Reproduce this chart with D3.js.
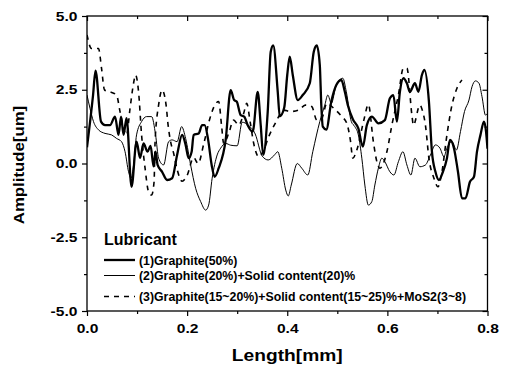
<!DOCTYPE html>
<html>
<head>
<meta charset="utf-8">
<script src="https://cdn.jsdelivr.net/npm/d3@7"></script>
<style>
  body { margin: 0; background: #fff; }
  svg { display: block; }
  text { font-family: "Liberation Sans", Arial, sans-serif; font-weight: bold; fill: #000; }
</style>
</head>
<body>
<div id="chart"></div>
<script>
// values (Length in mm, Amplitude in um)
var graphiteX = [0.000, 0.012, 0.017, 0.028, 0.036, 0.046, 0.056, 0.063, 0.068, 0.073, 0.079, 0.089, 0.099, 0.106, 0.113, 0.121, 0.127, 0.133, 0.137, 0.141, 0.150, 0.160, 0.170, 0.180, 0.190, 0.197, 0.203, 0.209, 0.213, 0.223, 0.230, 0.235, 0.242, 0.249, 0.255, 0.263, 0.277, 0.287, 0.294, 0.299, 0.307, 0.314, 0.321, 0.331, 0.341, 0.347, 0.352, 0.361, 0.367, 0.372, 0.381, 0.385, 0.394, 0.400, 0.405, 0.411, 0.421, 0.431, 0.445, 0.453, 0.459, 0.465, 0.468, 0.471, 0.478, 0.488, 0.498, 0.508, 0.515, 0.521, 0.531, 0.542, 0.551, 0.559, 0.569, 0.582, 0.595, 0.605, 0.612, 0.619, 0.625, 0.632, 0.639, 0.645, 0.655, 0.662, 0.669, 0.674, 0.683, 0.689, 0.696, 0.703, 0.711, 0.719, 0.725, 0.733, 0.741, 0.749, 0.756, 0.765, 0.773, 0.779, 0.786, 0.793, 0.797, 0.800];
var graphiteY = [0.55, 2.30, 3.15, 1.42, 1.30, 1.30, 1.59, 0.97, 1.59, 0.97, 1.54, -0.79, 0.74, 0.19, 0.68, 0.40, 0.60, -0.10, 0.40, -0.05, -0.28, -0.56, -0.50, 0.29, 0.97, 0.63, 0.18, 0.40, 0.97, 1.02, 1.30, 1.30, 0.80, -0.05, -0.45, -0.16, 0.80, 2.49, 2.15, 2.10, 1.64, 1.59, 1.30, 1.08, 2.43, 1.30, 0.29, 1.76, 3.79, 4.00, 2.43, 1.60, 1.90, 3.00, 3.62, 3.00, 2.15, 2.32, 2.72, 3.79, 4.00, 3.34, 1.98, 1.25, 1.15, 2.10, 2.66, 2.83, 2.43, 1.98, 1.50, 1.19, 0.57, 1.30, 1.59, 1.36, 1.47, 2.21, 2.32, 1.42, 2.43, 2.89, 2.72, 2.43, 2.72, 2.43, 3.00, 3.17, 2.10, 0.40, -0.28, -0.56, -0.28, 0.18, 0.80, 0.52, -0.28, -1.18, -1.18, -0.62, -0.45, 0.40, 0.97, 1.42, 1.10, 0.50];

var solidX = [0.000, 0.006, 0.013, 0.023, 0.036, 0.049, 0.059, 0.069, 0.076, 0.083, 0.088, 0.093, 0.099, 0.109, 0.119, 0.129, 0.137, 0.143, 0.153, 0.163, 0.170, 0.180, 0.189, 0.197, 0.207, 0.217, 0.227, 0.237, 0.243, 0.250, 0.260, 0.267, 0.277, 0.287, 0.300, 0.310, 0.322, 0.336, 0.350, 0.362, 0.375, 0.381, 0.389, 0.397, 0.402, 0.408, 0.420, 0.429, 0.441, 0.451, 0.465, 0.475, 0.481, 0.488, 0.498, 0.511, 0.518, 0.528, 0.535, 0.542, 0.549, 0.555, 0.562, 0.569, 0.575, 0.582, 0.589, 0.595, 0.605, 0.613, 0.622, 0.631, 0.639, 0.647, 0.655, 0.665, 0.676, 0.686, 0.696, 0.705, 0.713, 0.719, 0.729, 0.738, 0.746, 0.754, 0.763, 0.769, 0.776, 0.783, 0.789, 0.796, 0.800];
var solidY = [2.32, 1.87, 1.42, 1.14, 1.02, 0.97, 0.85, 0.74, 0.40, -0.28, -0.50, -0.05, 0.97, 1.42, 1.59, 1.59, 0.97, 0.18, -0.05, 0.74, 0.80, 0.74, 1.25, 0.85, -0.05, -0.84, -1.29, -1.58, -1.41, -0.50, 0.29, 0.52, 0.68, 0.62, 0.60, 1.40, 1.30, 1.00, 0.25, 0.12, 0.30, 0.40, -0.16, -0.90, -1.10, -0.73, 0.00, -0.16, -0.39, 0.40, 1.42, 1.98, 2.32, 2.04, 2.66, 2.89, 2.43, 1.42, 1.25, 0.97, 0.18, -0.73, -1.41, -1.29, -0.73, -0.16, 0.18, 0.06, -0.28, -0.39, 0.06, 0.40, -0.05, -0.39, 0.18, -0.11, -0.05, 0.29, 0.63, 0.52, 0.23, 0.52, 0.74, 0.46, 1.08, 1.76, 2.15, 2.60, 2.80, 2.72, 2.27, 1.64, 1.70];

var mos2X = [0.000, 0.009, 0.023, 0.029, 0.035, 0.046, 0.059, 0.066, 0.075, 0.079, 0.086, 0.093, 0.097, 0.103, 0.109, 0.116, 0.123, 0.129, 0.134, 0.136, 0.143, 0.150, 0.158, 0.162, 0.167, 0.173, 0.180, 0.190, 0.200, 0.213, 0.222, 0.233, 0.245, 0.256, 0.263, 0.269, 0.273, 0.283, 0.293, 0.303, 0.313, 0.319, 0.326, 0.333, 0.343, 0.353, 0.363, 0.376, 0.393, 0.406, 0.423, 0.436, 0.449, 0.459, 0.469, 0.479, 0.493, 0.509, 0.519, 0.526, 0.531, 0.539, 0.553, 0.562, 0.572, 0.579, 0.585, 0.599, 0.609, 0.622, 0.632, 0.639, 0.649, 0.652, 0.665, 0.669, 0.676, 0.683, 0.693, 0.701, 0.709, 0.719, 0.729, 0.739, 0.749];
var mos2Y = [4.36, 3.90, 3.90, 3.23, 2.49, 2.43, 2.32, 1.76, 1.08, 0.97, 1.87, 2.72, 3.00, 2.43, 0.97, -0.16, -0.96, -1.07, -0.62, 0.74, 1.98, 2.49, 1.98, 1.30, 0.74, 0.35, -0.20, -0.60, -0.40, 0.20, 0.00, 0.65, 1.50, 2.00, 2.10, 1.25, 0.68, 1.02, 1.47, 1.30, 1.70, 2.04, 1.40, 0.68, 0.23, 0.46, 0.91, 1.36, 1.81, 1.76, 1.81, 1.98, 1.93, 1.47, 1.53, 2.04, 1.87, 1.59, 1.36, 0.80, 0.18, 0.46, 1.47, 2.00, 0.74, 0.06, -0.16, 0.40, 1.30, 2.32, 3.23, 3.23, 1.64, 1.30, 1.98, 1.85, 1.30, 0.18, -0.50, -0.79, -0.28, 0.97, 1.98, 2.55, 2.83];

var seriesNames = ["(1)Graphite(50%)", "(2)Graphite(20%)+Solid content(20)%", "(3)Graphite(15~20%)+Solid content(15~25)%+MoS2(3~8)"];
var legendTitle = "Lubricant";
var xMajor = [0, 0.2, 0.4, 0.6, 0.8], xMinor = [0.1, 0.3, 0.5, 0.7];
var yMajor = [-5, -2.5, 0, 2.5, 5], yMinor = [-3.75, -1.25, 1.25, 3.75];

// set the dimensions and margins of the graph
var margin = {top: 16, right: 17.5, bottom: 58, left: 87},
  width = 505 - margin.left - margin.right,
  height = 369 - margin.top - margin.bottom;

var svg = d3.select("#chart")
  .append("svg")
  .attr("width", 505)
  .attr("height", 369)
  .append("g")
  .attr("transform", "translate(" + margin.left + "," + margin.top + ")");

var x = d3.scaleLinear().domain([0, 0.8]).range([0, width]);
var y = d3.scaleLinear().domain([-5, 5]).range([height, 0]);
var fmt = d => d.toFixed(1);
var STRETCH = "scale(1.2,1)";

function ticksOnly(g) {
  g.select(".domain").remove();
  g.selectAll("line").attr("stroke", "#000").attr("stroke-width", 1.2);
}

// bottom axis (ticks out)
svg.append("g").attr("transform", "translate(0," + height + ")")
  .call(d3.axisBottom(x).tickValues(xMinor).tickSize(3).tickFormat(""))
  .call(ticksOnly);
var xAx = svg.append("g").attr("transform", "translate(0," + height + ")")
  .call(d3.axisBottom(x).tickValues(xMajor).tickSize(5).tickPadding(8).tickFormat(fmt))
  .call(ticksOnly);
xAx.selectAll("text").attr("font-size", "13px").attr("transform", STRETCH);

// left axis (ticks out)
svg.append("g")
  .call(d3.axisLeft(y).tickValues(yMinor).tickSize(3).tickFormat(""))
  .call(ticksOnly);
var yAx = svg.append("g")
  .call(d3.axisLeft(y).tickValues(yMajor).tickSize(5).tickPadding(3).tickFormat(fmt))
  .call(ticksOnly);
yAx.selectAll("text").attr("font-size", "13px").attr("transform", STRETCH);

// top axis (mirrored ticks in)
svg.append("g").call(d3.axisTop(x).tickValues(xMinor).tickSize(-3).tickFormat("")).call(ticksOnly);
svg.append("g").call(d3.axisTop(x).tickValues(xMajor).tickSize(-5).tickFormat("")).call(ticksOnly);
// right axis (mirrored ticks in)
svg.append("g").attr("transform", "translate(" + width + ",0)")
  .call(d3.axisRight(y).tickValues(yMinor).tickSize(-3).tickFormat("")).call(ticksOnly);
svg.append("g").attr("transform", "translate(" + width + ",0)")
  .call(d3.axisRight(y).tickValues(yMajor).tickSize(-5).tickFormat("")).call(ticksOnly);

// frame
svg.append("rect")
  .attr("width", width).attr("height", height)
  .attr("fill", "none").attr("stroke", "#000").attr("stroke-width", 1.3);

// axis titles
svg.append("text")
  .attr("transform", "translate(" + (width / 2) + "," + (height + 50) + ") " + STRETCH)
  .attr("text-anchor", "middle")
  .attr("font-size", "16px")
  .text("Length[mm]");
svg.append("text")
  .attr("transform", "translate(" + (19 - margin.left) + "," + (165 - margin.top) + ") rotate(-90) " + STRETCH)
  .attr("text-anchor", "middle")
  .attr("dy", "0.35em")
  .attr("font-size", "14px")
  .text("Amplitude[um]");

// lines
svg.append("clipPath").attr("id", "plot-clip")
  .append("rect").attr("width", width).attr("height", height);

var styles = [
  {w: 2.3, dash: null},
  {w: 1, dash: null},
  {w: 1.6, dash: "5,5"}
];
var series = [
  d3.zip(graphiteX, graphiteY),
  d3.zip(solidX, solidY),
  d3.zip(mos2X, mos2Y)
];
var line = d3.line()
  .x(d => x(d[0]))
  .y(d => y(d[1]))
  .curve(d3.curveMonotoneX);

svg.append("g").attr("clip-path", "url(#plot-clip)")
  .selectAll("path")
  .data(series)
  .enter()
  .append("path")
  .attr("d", line)
  .attr("fill", "none")
  .attr("stroke", "#000")
  .attr("stroke-width", (d, i) => styles[i].w)
  .attr("stroke-dasharray", (d, i) => styles[i].dash)
  .attr("stroke-linejoin", "round");

// legend
var legend = svg.append("g").attr("transform", "translate(" + (104 - margin.left) + "," + (245 - margin.top) + ")");
legend.append("text").attr("font-size", "16px").text(legendTitle);
var rowY = [15, 30.5, 51.5];
seriesNames.forEach(function(name, i) {
  legend.append("line")
    .attr("x1", 0).attr("x2", 31)
    .attr("y1", rowY[i]).attr("y2", rowY[i])
    .attr("stroke", "#000")
    .attr("stroke-width", styles[i].w)
    .attr("stroke-dasharray", styles[i].dash);
  legend.append("text")
    .attr("x", 35)
    .attr("y", rowY[i] + 4.5)
    .attr("font-size", "12.3px")
    .text(name);
});
</script>
</body>
</html>
